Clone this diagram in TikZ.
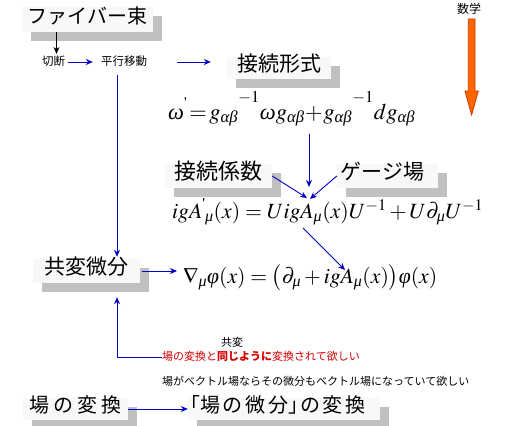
\documentclass[tikz,border=0pt]{standalone}
\usepackage{graphicx}
\usepackage{amsmath}
\usepackage{mathptmx}
\usepackage{fontspec}
\newfontfamily\jp{Noto Sans CJK JP}
\newfontfamily\lserif{Liberation Serif}
\usetikzlibrary{arrows.meta,shadows,calc}
\definecolor{arrblue}{RGB}{0,0,200}
\definecolor{boxfill}{RGB}{248,248,248}
\definecolor{shadegray}{RGB}{192,192,192}
\definecolor{redtext}{RGB}{215,0,0}
\definecolor{orangefill}{RGB}{255,102,0}
\definecolor{orangeline}{RGB}{204,51,0}
\newcommand{\tick}[1]{\mathord{\raisebox{#1}{\lserif\fontsize{14}{14}\selectfont\char"27}}}
\newcommand{\hiinv}{{}^{\raisebox{8pt}{$\scriptstyle -1$}}}
\newcommand{\gr}[1]{\mathord{\text{\lserif\itshape #1}}}
\tikzset{
  shbox/.style={fill=boxfill, inner sep=0pt, text height=0.86em, text depth=0.12em,
    drop shadow={shadow xshift=9pt, shadow yshift=-9pt, fill=shadegray, opacity=1}},
  jpbig/.style={font=\jp\fontsize{#1}{#1}\selectfont},
  small/.style={font=\jp\fontsize{11.5}{12}\selectfont, inner sep=0pt, text height=0.86em, text depth=0.12em},
  blarr/.style={draw=arrblue, line width=0.9pt, -{Stealth[length=7pt,width=6pt]}},
  bkarr/.style={draw=black, line width=0.9pt, -{Stealth[length=7pt,width=6pt]}},
  formula/.style={inner sep=0pt, anchor=base west},
}
\begin{document}
\begin{tikzpicture}[x=1pt,y=-1pt]
\useasboundingbox (0,0) rectangle (526,425);

% boxes with shadow
\node[shbox, jpbig=20, minimum width=131pt, minimum height=25pt] (fiber) at (87.5,19.5) {ファイバー束};
\node[shbox, jpbig=21, minimum width=104pt, minimum height=22pt] (keishiki) at (279,68) {接続形式};
\node[shbox, jpbig=22, minimum width=107pt, minimum height=24pt] (keisu) at (218.5,176) {接続係数};
\node[shbox, jpbig=21, minimum width=101pt, minimum height=24pt] (gauge) at (387.5,176) {ゲージ場\kern10pt};
\node[shbox, jpbig=21, minimum width=107pt, minimum height=24pt] (kyouhen) at (86.5,271) {共変微分};
\node[shbox, jpbig=20, minimum width=105pt, minimum height=22pt] (ba) at (75.5,409)
  {場\kern4pt の\kern4pt 変\kern4pt 換};
\node[shbox, jpbig=20, minimum width=192pt, minimum height=22pt] (bibun) at (284,409)
  {\kern-9pt「場\kern3pt の\kern3pt 微\kern3pt 分」\kern-9pt の\kern3pt 変\kern3pt 換\kern13pt};

% small texts
\node[small] (kiri) at (53.5,62) {切断};
\node[small] (heiko) at (124,62) {平行移動};
\node[small, font=\jp\fontsize{12}{12}\selectfont] (sugaku) at (469,10) {数学};
\node[small, font=\jp\fontsize{11}{12}\selectfont] (kyo) at (232,343) {共変};
\node[small, font=\jp\fontsize{11}{12}\selectfont, text=redtext, anchor=west] (red) at (162,357)
  {場の変換と{\bfseries 同じように}変換されて欲しい};
\node[small, font=\jp\fontsize{11}{12}\selectfont, anchor=west] (vec) at (162,382)
  {場がベクトル場ならその微分もベクトル場になっていて欲しい};

% formulas
\node[formula] (F1) at (168,119)
  {\resizebox{247pt}{!}{\fontsize{21}{24}\selectfont$\gr{ω}\tick{11pt}\!=\!g_{\gr{αβ}}\hiinv\gr{ω} g_{\gr{αβ}}\!+\!g_{\gr{αβ}}\hiinv dg_{\gr{αβ}}$}};
\node[formula] (F2) at (172,218)
  {\resizebox{311pt}{!}{\fontsize{20}{24}\selectfont$igA\tick{9pt}{}_{\gr{μ}}(x) = UigA_{\gr{μ}}(x)U^{-1} + U\partial_{\gr{μ}}U^{-1}$}};
\node[formula] (F3) at (183,283)
  {\resizebox{254pt}{!}{\fontsize{20}{24}\selectfont$\nabla_{\gr{μ}}\gr{φ}(x) = \bigl(\partial_{\gr{μ}} + igA_{\gr{μ}}(x)\bigr)\gr{φ}(x)$}};

% helper coordinates
\coordinate (vx) at (117,0);
\coordinate (meet) at (309,187);
\coordinate (meetL) at (307,198);
\coordinate (meetR) at (310,199);
\coordinate (f2a) at (303,228);
\coordinate (f3a) at (345,270);

% connectors
\draw[bkarr, shorten >=3pt] ([xshift=3pt]kiri.north |- fiber.south) -- ([xshift=3pt]kiri.north);
\draw[blarr, shorten <=3pt, shorten >=8pt] (kiri.east) -- (heiko.west);
\draw[blarr, shorten <=30pt, shorten >=16pt] (heiko.east) -- (heiko.east -| keishiki.west);
\draw[blarr, shorten <=8pt, shorten >=2pt] (heiko.south -| vx) -- (kyouhen.north -| vx);
\draw[blarr, shorten <=7pt] (meet |- F1.south) -- (meet);
\draw[blarr] (keisu.east) -- (meetL);
\draw[blarr] (gauge.west) -- (meetR);
\draw[blarr] (f2a) -- (f3a);
\draw[blarr, shorten <=2pt, shorten >=6pt] (kyouhen.east) -- (kyouhen.east -| F3.west);
\draw[blarr, shorten >=14pt] (red.west) -| (kyouhen.south -| vx);
\draw[blarr] (ba.east) -- (bibun.west);

% orange block arrow
\fill[orangefill, draw=orangeline, line width=0.8pt]
  (468.3,19) -- (475,19) -- (475,91) -- (478.3,91) -- (471.6,115) -- (465,91) -- (468.3,91) -- cycle;
\end{tikzpicture}
\end{document}
